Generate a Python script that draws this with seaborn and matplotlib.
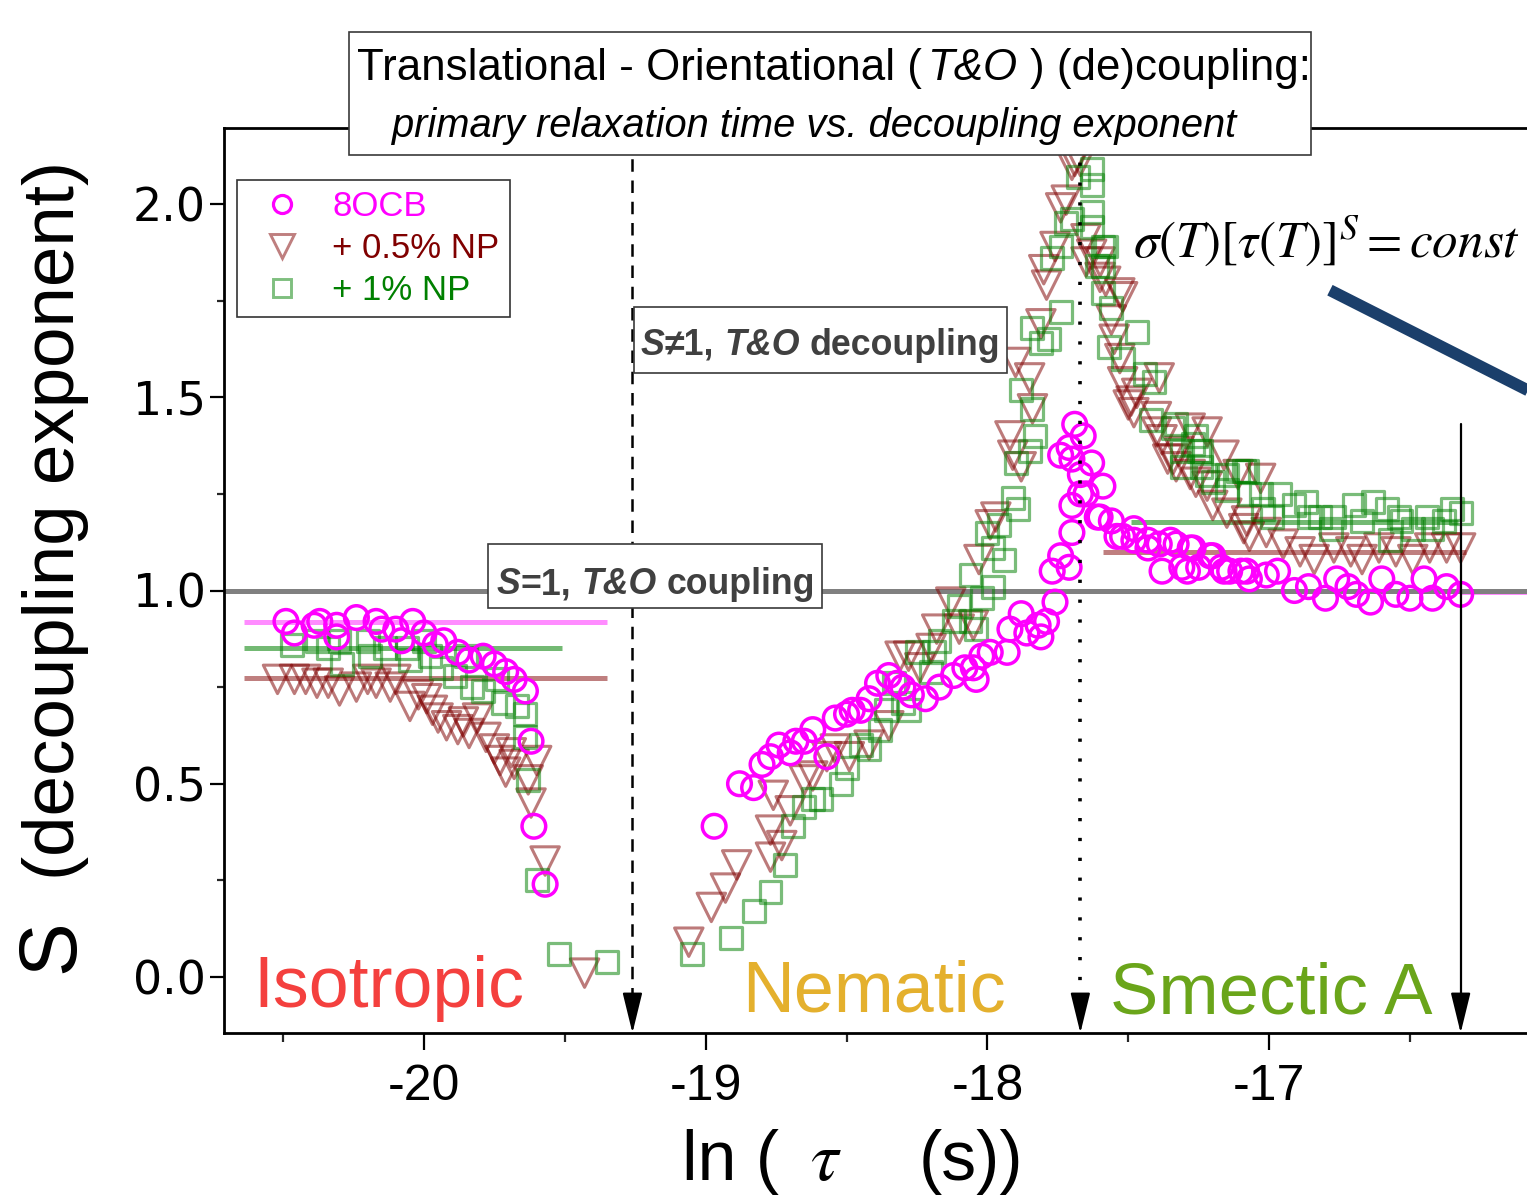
import matplotlib
matplotlib.use("Agg")
import matplotlib.pyplot as plt
from matplotlib.patches import Rectangle
from matplotlib.lines import Line2D
import seaborn as sns
import numpy as np

# ---------------- data ----------------
ocb_x = [-20.49, -20.46, -20.39, -20.37, -20.31, -20.31, -20.24, -20.17, -20.15, -20.10, -20.08,
         -20.04, -20.00, -19.96, -19.93, -19.88, -19.84, -19.79, -19.75, -19.71, -19.68, -19.64,
         -19.62, -19.61, -19.57,
         -18.97, -18.88, -18.83, -18.80, -18.77, -18.74, -18.70, -18.68, -18.65, -18.62, -18.57,
         -18.54, -18.50, -18.48, -18.45, -18.42, -18.39, -18.35, -18.32, -18.30, -18.27, -18.22,
         -18.17, -18.12, -18.08, -18.04, -18.05, -18.02, -17.99, -17.93, -17.92, -17.88, -17.86,
         -17.82, -17.81, -17.79, -17.76, -17.77, -17.74, -17.71, -17.70, -17.70, -17.67, -17.74,
         -17.70, -17.69, -17.66, -17.71, -17.63, -17.67, -17.59, -17.65, -17.61, -17.56, -17.60,
         -17.54, -17.52, -17.48, -17.48, -17.43, -17.43, -17.39, -17.38, -17.35, -17.33, -17.31,
         -17.29, -17.28, -17.27, -17.25, -17.21, -17.20, -17.17, -17.16, -17.14, -17.10, -17.08,
         -17.07, -17.01, -16.97, -16.91, -16.86, -16.80, -16.76, -16.72, -16.69, -16.64, -16.60,
         -16.55, -16.50, -16.45, -16.42, -16.37, -16.32]
ocb_y = [0.92, 0.89, 0.91, 0.92, 0.91, 0.88, 0.93, 0.92, 0.90, 0.90, 0.87,
         0.92, 0.89, 0.86, 0.87, 0.84, 0.82, 0.83, 0.81, 0.79, 0.77, 0.74,
         0.61, 0.39, 0.24,
         0.39, 0.50, 0.49, 0.55, 0.57, 0.60, 0.58, 0.61, 0.61, 0.64, 0.57,
         0.67, 0.68, 0.69, 0.69, 0.72, 0.76, 0.78, 0.76, 0.75, 0.73, 0.72,
         0.75, 0.78, 0.80, 0.77, 0.80, 0.83, 0.84, 0.84, 0.90, 0.94, 0.89,
         0.91, 0.88, 0.92, 0.97, 1.05, 1.09, 1.06, 1.15, 1.22, 1.25, 1.35,
         1.34, 1.43, 1.40, 1.37, 1.33, 1.30, 1.27, 1.25, 1.19, 1.18, 1.19,
         1.14, 1.14, 1.16, 1.13, 1.11, 1.13, 1.12, 1.05, 1.13, 1.12, 1.06,
         1.05, 1.11, 1.11, 1.06, 1.09, 1.09, 1.06, 1.05, 1.05, 1.05, 1.05,
         1.03, 1.04, 1.05, 1.00, 1.01, 0.98, 1.03, 1.01, 0.99, 0.97, 1.03,
         0.99, 0.98, 1.03, 0.98, 1.01, 0.99]

np05_x = [-20.52, -20.46, -20.42, -20.38, -20.34, -20.30, -20.24, -20.20, -20.17, -20.12, -20.10,
          -20.05, -20.02, -19.99, -19.97, -19.95, -19.92, -19.88, -19.86, -19.84, -19.81, -19.78,
          -19.75, -19.73, -19.71, -19.69, -19.68, -19.60, -19.63, -19.62, -19.57, -19.43,
          -19.06, -18.98, -18.93, -18.89, -18.77, -18.77, -18.76, -18.73, -18.70, -18.65, -18.62,
          -18.57, -18.54, -18.49, -18.42, -18.35, -18.31, -18.28, -18.24, -18.20, -18.18, -18.13,
          -18.10, -18.05, -18.03, -17.99, -17.97, -17.92, -17.91, -17.88, -17.84, -17.85, -17.90,
          -17.81, -17.79, -17.80, -17.76, -17.74, -17.72, -17.70, -17.67,
          -17.69, -17.65, -17.63, -17.60, -17.65, -17.58, -17.60, -17.53, -17.52, -17.56, -17.55,
          -17.53, -17.52, -17.49, -17.47, -17.50, -17.48, -17.39, -17.40, -17.40, -17.38, -17.36,
          -17.34, -17.32, -17.33, -17.28, -17.28, -17.26, -17.22, -17.22, -17.20, -17.16, -17.15,
          -17.11, -17.09, -17.08, -17.07, -17.03, -17.01, -16.95, -16.89, -16.84, -16.77, -16.71,
          -16.67, -16.61, -16.55, -16.49, -16.43, -16.37, -16.32]
np05_y = [0.77, 0.77, 0.77, 0.76, 0.76, 0.74, 0.75, 0.77, 0.76, 0.75, 0.77,
          0.70, 0.73, 0.72, 0.69, 0.67, 0.65, 0.64, 0.66, 0.63, 0.67, 0.62,
          0.59, 0.56, 0.53, 0.58, 0.55, 0.56, 0.51, 0.45, 0.30, 0.01,
          0.09, 0.18, 0.23, 0.29, 0.38, 0.31, 0.47, 0.34, 0.43, 0.51, 0.52,
          0.57, 0.59, 0.57, 0.60, 0.65, 0.83, 0.83, 0.80, 0.85, 0.90, 0.97,
          0.90, 0.91, 1.08, 1.17, 1.19, 1.40, 1.35, 1.32, 1.47, 1.55, 1.59,
          1.69, 1.79, 1.83, 1.89, 1.99, 2.01, 2.10, 2.11,
          2.11, 1.91, 1.87, 1.81, 1.85, 1.80, 1.85, 1.77, 1.76, 1.70, 1.65,
          1.60, 1.54, 1.49, 1.51, 1.48, 1.46, 1.55, 1.45, 1.41, 1.39, 1.34,
          1.34, 1.36, 1.32, 1.42, 1.30, 1.28, 1.27, 1.41, 1.22, 1.35, 1.20,
          1.30, 1.16, 1.18, 1.14, 1.29, 1.15, 1.12, 1.10, 1.08, 1.11, 1.10,
          1.08, 1.11, 1.10, 1.08, 1.11, 1.11, 1.11]

np1_x = [-20.47, -20.38, -20.34, -20.30, -20.29, -20.20, -20.19, -20.14, -20.06, -20.05, -20.00,
         -19.98, -19.94, -19.89, -19.85, -19.83, -19.79, -19.74, -19.72, -19.67, -19.64, -19.64,
         -19.63, -19.60, -19.52, -19.35,
         -19.05, -18.91, -18.83, -18.77, -18.72, -18.69, -18.65, -18.62, -18.59, -18.52, -18.50,
         -18.45, -18.42, -18.38, -18.36, -18.33, -18.30, -18.28, -18.25, -18.20, -18.19, -18.17,
         -18.12, -18.10, -18.06, -18.04, -18.06, -18.02, -17.98, -17.94, -17.98, -18.00, -17.96,
         -17.91, -17.89, -17.90, -17.85, -17.83, -17.84, -17.88, -17.81, -17.78, -17.84, -17.74,
         -17.77, -17.74, -17.72, -17.70, -17.68,
         -17.63, -17.63, -17.63, -17.63, -17.59, -17.59, -17.58, -17.61, -17.59, -17.56, -17.57,
         -17.47, -17.52, -17.44, -17.41, -17.42, -17.34, -17.31, -17.27, -17.25, -17.24, -17.15,
         -17.09, -17.07, -17.33, -17.26, -17.24, -17.31, -17.22, -17.20, -17.15, -17.11, -17.08,
         -17.03, -17.02, -16.99, -16.96, -16.91, -16.87, -16.86, -16.82, -16.77, -16.78, -16.70,
         -16.67, -16.63, -16.58, -16.57, -16.54, -16.53, -16.49, -16.44, -16.42, -16.38, -16.35,
         -16.32]
np1_y = [0.86, 0.87, 0.85, 0.87, 0.81, 0.87, 0.83, 0.85, 0.85, 0.82, 0.87,
         0.83, 0.80, 0.78, 0.83, 0.75, 0.74, 0.77, 0.71, 0.70, 0.68, 0.62,
         0.51, 0.25, 0.06, 0.04,
         0.06, 0.10, 0.17, 0.22, 0.29, 0.39, 0.44, 0.46, 0.46, 0.50, 0.54,
         0.60, 0.59, 0.64, 0.69, 0.76, 0.71, 0.69, 0.84, 0.79, 0.84, 0.87,
         0.92, 0.96, 0.92, 0.90, 1.04, 0.98, 1.01, 1.08, 1.11, 1.15, 1.17,
         1.24, 1.21, 1.33, 1.36, 1.40, 1.47, 1.52, 1.64, 1.65, 1.68, 1.72,
         1.86, 1.89, 1.95, 1.96, 2.07,
         2.09, 2.05, 1.98, 1.94, 1.89, 1.84, 1.89, 1.84, 1.77, 1.73, 1.63,
         1.67, 1.60, 1.56, 1.54, 1.44, 1.42, 1.36, 1.38, 1.36, 1.32, 1.30,
         1.31, 1.25, 1.43, 1.40, 1.36, 1.32, 1.30, 1.28, 1.26, 1.31, 1.31,
         1.25, 1.21, 1.19, 1.25, 1.22, 1.23, 1.19, 1.19, 1.19, 1.16, 1.22,
         1.18, 1.23, 1.21, 1.13, 1.19, 1.18, 1.16, 1.19, 1.16, 1.18, 1.21,
         1.20]

series_labels = ["8OCB", "+ 0.5% NP", "+ 1% NP"]

# mean-level guide lines: (x_start, x_end, level)
iso_levels = {"8OCB": (-20.64, -19.35, 0.918),
              "+ 1% NP": (-20.64, -19.51, 0.851),
              "+ 0.5% NP": (-20.64, -19.35, 0.774)}
sma_levels = {"8OCB": (-16.32, -15.90, 0.995),
              "+ 1% NP": (-17.49, -16.33, 1.177),
              "+ 0.5% NP": (-17.59, -16.30, 1.100)}
coupling_level = 1.0

# phase boundaries
boundary_iso_nem = -19.26
boundary_nem_sma = -17.67
boundary_end = -16.32
boundary_end_top = 1.43

# guide stroke toward the formula
blue_line_x = [-16.784, -15.90]
blue_line_y = [1.777, 1.451]

x_ticks = [-20, -19, -18, -17]
y_ticks = [0.0, 0.5, 1.0, 1.5, 2.0]

# ---------------- style ----------------
sns.set_theme(style="ticks")
plt.rcParams["font.family"] = ["Liberation Sans", "DejaVu Sans"]
plt.rcParams["mathtext.fontset"] = "stix"

W, H = 1527, 1198
fig = plt.figure(figsize=(W / 100, H / 100), dpi=100)
renderer = fig.canvas.get_renderer()


def fx(x):
    return x / W


def fy(y):
    return 1 - y / H


ax_left, ax_right, ax_top, ax_bot = 224, 1578, 128, 1033
ax = fig.add_axes([fx(ax_left), fy(ax_bot), (ax_right - ax_left) / W, (ax_bot - ax_top) / H])

px_per_x = 281.7
px_per_y = 386.5
ax.set_xlim(-20 + (ax_left - 424) / px_per_x, -20 + (ax_right - 424) / px_per_x)
ax.set_ylim(-(ax_bot - 977) / px_per_y, (977 - ax_top) / px_per_y)
ymin, ymax = ax.get_ylim()

MAG = "#ff00ff"
BRN = "#800000"
GRN = "#008000"

# mean lines
line_style = {"8OCB": (MAG, 0.45), "+ 0.5% NP": (BRN, 0.5), "+ 1% NP": (GRN, 0.55)}
for lvl in (iso_levels, sma_levels):
    for k, (x0, x1, yv) in lvl.items():
        c, a = line_style[k]
        ax.plot([x0, x1], [yv, yv], color=c, alpha=a, lw=3.6, zorder=1.5,
                solid_capstyle="butt")

# reference line S = 1
ax.plot(list(ax.get_xlim()), [coupling_level] * 2, color="#808080", lw=3.6, zorder=2)

# scatter series
sns.scatterplot(x=np05_x, y=np05_y, marker="v", s=420, facecolors="none",
                edgecolor=BRN, linewidth=2.2, alpha=0.52, ax=ax, zorder=3)
sns.scatterplot(x=np1_x, y=np1_y, marker="s", s=250, facecolors="none",
                edgecolor=GRN, linewidth=2.3, alpha=0.52, ax=ax, zorder=3)
sns.scatterplot(x=ocb_x, y=ocb_y, marker="o", s=290, facecolors="none",
                edgecolor=MAG, linewidth=2.5, alpha=1.0, ax=ax, zorder=4)

# phase boundary lines
arrow_base = ymin + 0.085
ax.plot([boundary_iso_nem] * 2, [arrow_base, ymax], color="black", lw=1.8,
        dashes=(5, 3.5), zorder=5)
ax.plot([boundary_nem_sma] * 2, [arrow_base, ymax], color="black", lw=2.6,
        dashes=(0.9, 4.6), dash_capstyle="butt", zorder=5)
ax.plot([boundary_end] * 2, [arrow_base, boundary_end_top], color="black", lw=1.6, zorder=5)
for bx in (boundary_iso_nem, boundary_nem_sma, boundary_end):
    ax.annotate("", xy=(bx, ymin), xytext=(bx, arrow_base + 0.01),
                arrowprops=dict(arrowstyle="-|>,head_length=0.9,head_width=0.22",
                                color="black", lw=1.5, mutation_scale=28,
                                shrinkA=0, shrinkB=0), zorder=6)

ax.plot(blue_line_x, blue_line_y, color="#1b3f6b", lw=8.5, clip_on=False,
        solid_capstyle="butt", zorder=6)

# axes cosmetics
ax.set_xticks(x_ticks)
ax.set_xticklabels([f"{t}" for t in x_ticks])
ax.set_xticks(np.arange(-20.5, -16.0, 1.0), minor=True)
ax.set_yticks(y_ticks)
ax.set_yticklabels([f"{t:.1f}" for t in y_ticks])
ax.set_yticks(np.arange(0.25, 2.2, 0.5), minor=True)
ax.tick_params(axis="x", which="major", direction="out", length=12, width=1.6,
               pad=10, labelsize=36, colors="black")
ax.tick_params(axis="x", which="minor", direction="out", length=6.5, width=1.6)
ax.tick_params(axis="y", which="major", direction="out", length=10, width=1.6,
               pad=3, labelsize=33, colors="black")
ax.tick_params(axis="y", which="minor", direction="out", length=5, width=1.6)
for lab in ax.get_yticklabels():
    lab.set_fontfamily("DejaVu Sans")
for sp in ("left", "bottom", "top"):
    ax.spines[sp].set_linewidth(2.0)
    ax.spines[sp].set_color("black")
ax.spines["right"].set_visible(False)
ax.set_xlabel("")
ax.set_ylabel("")

# legend
handles = [
    Line2D([], [], ls="none", marker="o", ms=13, mfc="none", mec=MAG, mew=2.3),
    Line2D([], [], ls="none", marker="v", ms=17, mfc="none", mec=BRN, mew=2.1, alpha=0.5),
    Line2D([], [], ls="none", marker="s", ms=13, mfc="none", mec=GRN, mew=2.1, alpha=0.5),
]
leg = fig.legend(handles, series_labels, loc="upper left",
                 bbox_to_anchor=(fx(237), fy(180)), borderaxespad=0,
                 fontsize=25, frameon=True, fancybox=False, framealpha=1,
                 edgecolor="#333333", borderpad=0.3, handlelength=2.0,
                 handletextpad=0.45, labelspacing=0.25)
leg.get_frame().set_linewidth(1.2)
for t, c in zip(leg.get_texts(), [MAG, BRN, GRN]):
    t.set_color(c)


# ---------------- rich text helpers ----------------
def rich(pieces, left, right, base, size=30, color="black", weight="normal", z=7):
    arts, gaps = [], []
    for text, props, gap in pieces:
        kw = dict(fontsize=size, color=color, fontweight=weight)
        kw.update(props)
        a = fig.text(0, 0, text, va="baseline", ha="left", zorder=z, **kw)
        arts.append(a)
        gaps.append(gap)

    def total():
        ws = [a.get_window_extent(renderer).width for a in arts]
        return ws, sum(ws) + sum(g * arts[0].get_fontsize() * 100 / 72 for g in gaps)

    ws, tot = total()
    scale = (right - left) / tot
    for a in arts:
        a.set_fontsize(a.get_fontsize() * scale)
    ws, tot = total()
    x = left
    for a, w, g in zip(arts, ws, gaps):
        x += g * arts[0].get_fontsize() * 100 / 72
        a.set_position((fx(x), fy(base)))
        x += w
    return arts


def box(x0, y0, x1, y1):
    fig.add_artist(Rectangle((fx(x0), fy(y1)), (x1 - x0) / W, (y1 - y0) / H,
                             transform=fig.transFigure, fc="white", ec="#3a3a3a",
                             lw=1.2, zorder=6))


IT = {"fontstyle": "italic"}

# title box
box(349, 32, 1311, 155)
rich([("Translational - Orientational (", {}, 0),
      ("T&O", IT, 0.12),
      (") (de)coupling:", {}, 0.3)], 357, 1307, 80)
rich([("primary relaxation time vs. decoupling exponent", IT, 0)], 392, 1235, 137)

# S != 1 box
box(634, 307, 1007, 373)
rich([("S", IT, 0), ("\u22601,", {}, 0), ("T&O", IT, 0.28), ("decoupling", {}, 0.28)],
     641, 1000, 355, color="#404040", weight="bold")

# S = 1 box
box(488, 544, 822, 608)
rich([("S", IT, 0), ("=1,", {}, 0), ("T&O", IT, 0.28), ("coupling", {}, 0.28)],
     497, 815, 594, color="#404040", weight="bold")

# formula
rich([(r"$\sigma(T)[\tau(T)]^{S} = const$", {}, 0)], 1133, 1520, 258)

# phase labels
rich([("Isotropic", {}, 0)], 253, 523, 1007, color="#f4403e")
rich([("Nematic", {}, 0)], 742, 1005, 1012, color="#e4b02d")
rich([("Smectic A", {}, 0)], 1110, 1432, 1014, color="#6aa51a")

# x label
rich([("ln (", {}, 0), (r"$\tau$", {}, 0.45), ("(s))", {}, 1.1)], 682, 1025, 1180)

# y label (rotated)
a = fig.text(fx(56), fy(520), "(decoupling exponent)", rotation=90, ha="center",
             va="center", fontsize=50, color="black", zorder=7)
a.set_fontsize(50 * 720 / a.get_window_extent(renderer).height)
fig.text(fx(52), fy(946), "S", rotation=90, ha="center", va="center",
         fontsize=58, color="black", zorder=7)

fig.savefig("out.png", dpi=100)
